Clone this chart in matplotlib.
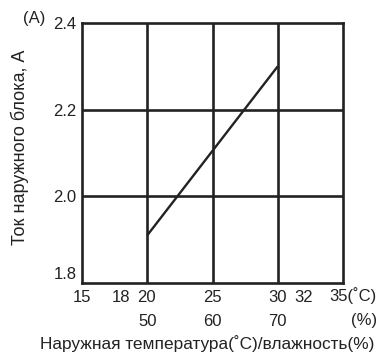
import matplotlib.pyplot as plt
from matplotlib.transforms import blended_transform_factory, ScaledTranslation

plt.rcParams['font.family'] = ['Liberation Sans', 'DejaVu Sans']

# outdoor unit current vs outdoor temperature / humidity
temp = [20, 30]
current = [1.91, 2.30]

temp_ticks = [15, 18, 20, 25, 30, 32]
humid_pos = [20, 25, 30]
humid_labels = ['50', '60', '70']
y_ticks = [1.8, 2.0, 2.2, 2.4]
grid_x = [20, 25, 30]
grid_y = [2.0, 2.2]

ink = '#222222'
fs = 12

fig = plt.figure(figsize=(3.82, 3.56), dpi=100)
ax = fig.add_axes([82 / 382, 73 / 356, 261 / 382, 260 / 356])

ax.set_xlim(15, 35)
ax.set_ylim(1.8, 2.4)
for s in ax.spines.values():
    s.set_linewidth(1.9)
    s.set_color(ink)

for gx in grid_x:
    ax.axvline(gx, color=ink, lw=1.9)
for gy in grid_y:
    ax.axhline(gy, color=ink, lw=1.9)

ax.plot(temp, current, color=ink, lw=1.7, solid_capstyle='butt')

ax.set_xticks(temp_ticks)
ax.set_xticklabels([str(t) for t in temp_ticks], fontsize=fs)
ax.set_yticks(y_ticks)
ax.set_yticklabels(['%.1f' % v for v in y_ticks], fontsize=fs)
ax.tick_params(length=0, colors=ink)
ax.tick_params(axis='x', pad=5)
ax.tick_params(axis='y', pad=4)

# nudge "20" left of its grid line, "1.8" up off the corner
lbls = ax.get_xticklabels()
lbls[2].set_transform(lbls[2].get_transform() + ScaledTranslation(-1 / 100, 0, fig.dpi_scale_trans))
ylbls = ax.get_yticklabels()
ylbls[0].set_transform(ylbls[0].get_transform() + ScaledTranslation(0, 10 / 100, fig.dpi_scale_trans))

tr = blended_transform_factory(ax.transData, ax.transAxes)
for x, lab in zip(humid_pos, humid_labels):
    ax.text(x, -38 / 260, lab, transform=tr, ha='center', va='center', fontsize=fs, color=ink)

ax.text(295 / 261, -13 / 260, '35(˚C)', transform=ax.transAxes, ha='right', va='center',
        fontsize=fs, color=ink)
ax.text(295 / 261, -38 / 260, '(%)', transform=ax.transAxes, ha='right', va='center',
        fontsize=fs, color=ink)
ax.text(-48 / 261, 1 + 5 / 260, '(A)', transform=ax.transAxes, ha='center', va='center',
        fontsize=fs, color=ink)

fig.text(20 / 382, 1 - 147 / 356, 'Ток наружного блока, А', rotation=90,
         ha='center', va='center', fontsize=13, color=ink)
fig.text(207 / 382, 1 - 344 / 356, 'Наружная температура(˚C)/влажность(%)',
         ha='center', va='center', fontsize=12.4, color=ink)

fig.savefig('out.png', dpi=100)
